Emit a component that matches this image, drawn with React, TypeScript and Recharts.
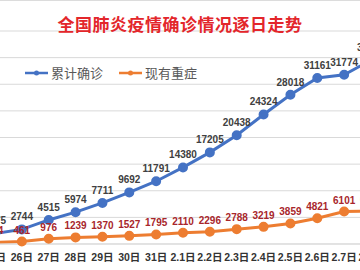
import { CartesianGrid, LabelList, Legend, Line, LineChart, XAxis, YAxis } from "recharts"

// daily figures, 25 Jan – 8 Feb
const days = ["25日", "26日", "27日", "28日", "29日", "30日", "31日", "2.1日", "2.2日", "2.3日", "2.4日", "2.5日", "2.6日", "2.7日", "2.8日"]
const confirmed = [1975, 2744, 4515, 5974, 7711, 9692, 11791, 14380, 17205, 20438, 24324, 28018, 31161, 31774, 34546]
const severe = [324, 461, 976, 1239, 1370, 1527, 1795, 2110, 2296, 2788, 3219, 3859, 4821, 6101, 6188]
const yTicks = [0, 5000, 10000, 15000, 20000, 25000, 30000, 35000, 40000]

const data = days.map((day, i) => ({ day, confirmed: confirmed[i], severe: severe[i] }))

const BLUE = "#4472C4"
const ORANGE = "#ED7D31"
const FONT = "'Liberation Sans', 'Noto Sans CJK SC', sans-serif"

const legendItems = [
  { name: "累计确诊", color: BLUE },
  { name: "现有重症", color: ORANGE },
]

function LegendContent() {
  return (
    <div style={{ display: "flex", alignItems: "center", fontFamily: "'Noto Sans CJK SC', sans-serif", fontSize: 13, color: "#595959" }}>
      {legendItems.map((item) => (
        <div key={item.name} style={{ display: "flex", alignItems: "center", marginRight: 16 }}>
          <svg width={23} height={10} style={{ marginRight: 3 }}>
            <line x1={0} y1={5} x2={23} y2={5} stroke={item.color} strokeWidth={2.5} />
            <circle cx={11.5} cy={5} r={2.5} fill={item.color} />
          </svg>
          <span>{item.name}</span>
        </div>
      ))}
    </div>
  )
}

export default function App() {
  return (
    <div style={{ position: "absolute", left: 0, top: 0, width: 360, height: 270, overflow: "hidden", background: "#fff", borderTop: "1px solid #dcdcdc", boxSizing: "border-box" }}>
      <LineChart width={420} height={270} data={data} margin={{ top: 12, right: 29, left: 15, bottom: 6 }} style={{ position: "absolute", left: -20, top: -1 }}>
        <CartesianGrid vertical={false} stroke="#d9d9d9" />
        <XAxis
          dataKey="day"
          height={20}
          axisLine={{ stroke: "#d9d9d9" }}
          tickLine={false}
          tickMargin={4}
          interval={0}
          tick={{ fill: "#333", fontSize: 10.5, fontWeight: 700, fontFamily: FONT }}
        />
        <YAxis hide domain={[0, 40000]} ticks={yTicks} />
        <Legend verticalAlign="top" content={<LegendContent />} wrapperStyle={{ position: "absolute", left: 45, top: 63, width: "auto" }} />
        <Line dataKey="severe" stroke={ORANGE} strokeWidth={3} dot={{ r: 3.5, fill: ORANGE, stroke: ORANGE }} isAnimationActive={false}>
          <LabelList dataKey="severe" position="top" offset={8} fill="#a8262b" fontSize={10} fontWeight={700} fontFamily={FONT} />
        </Line>
        <Line dataKey="confirmed" stroke={BLUE} strokeWidth={3} dot={{ r: 3.5, fill: BLUE, stroke: BLUE }} isAnimationActive={false}>
          <LabelList dataKey="confirmed" position="top" offset={9} fill="#404040" fontSize={10} fontWeight={700} fontFamily={FONT} />
        </Line>
      </LineChart>
      <div style={{ position: "absolute", left: 0, width: 360, top: 10, textAlign: "center", fontFamily: "'Noto Sans CJK SC', sans-serif", fontSize: 17, fontWeight: 700, color: "#e3262b", letterSpacing: 0.5 }}>
        全国肺炎疫情确诊情况逐日走势
      </div>
    </div>
  )
}
